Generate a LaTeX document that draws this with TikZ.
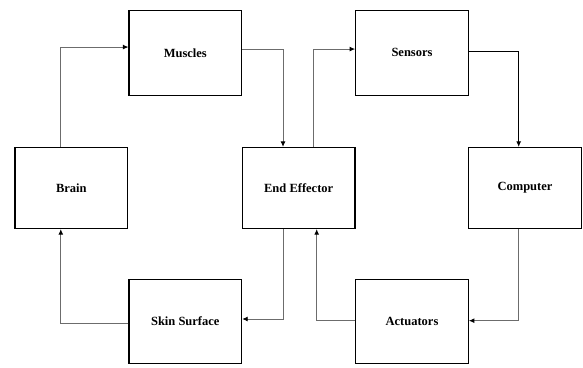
\documentclass[tikz,border=0pt]{standalone}
\usepackage{fontspec}
\setmainfont{Liberation Serif}
\usetikzlibrary{arrows.meta}
\begin{document}
\begin{tikzpicture}[x=1pt,y=-1pt,
  box/.style={draw=black,line width=1.3pt,minimum width=112.5pt,inner sep=0pt,
    font=\fontsize{12.5}{14}\selectfont\bfseries},
  toprow/.style={box,minimum height=85pt},
  midrow/.style={box,minimum height=81pt},
  botrow/.style={box,minimum height=84pt},
  conn/.style={draw=gray!85!black,line width=0.9pt,
    -{Latex[length=5.5pt,width=5pt,black]}},
  connb/.style={conn,draw=black}]
\useasboundingbox (0,0) rectangle (583,367);

\node[toprow] (muscles) at (185.3,52.8) {Muscles};
\node[toprow] (sensors) at (412,52.8) {Sensors};
\node[midrow] (brain) at (71.3,188) {Brain};
\node[midrow] (ee) at (298.7,188) {End Effector};
\node[midrow] (computer) at (525,188) {Computer};
\node[botrow] (skin) at (185.3,321.5) {Skin Surface};
\node[botrow] (actuators) at (412,321.5) {Actuators};

\draw[conn] ([xshift=-10.5pt]brain.north) |- ([yshift=5.75pt]muscles.west);
\draw[conn] ([yshift=3.75pt]muscles.east) -| ([xshift=-15.7pt]ee.north);
\draw[conn] ([xshift=14.3pt]ee.north) |- ([yshift=3.75pt]sensors.west);
\draw[connb] ([yshift=1.75pt]sensors.east) -| ([xshift=-6.3pt]computer.north);
\draw[conn] ([xshift=-6.3pt]computer.south) |- ([yshift=0.8pt]actuators.east);
\draw[conn] ([yshift=1.5pt]actuators.west) -| ([xshift=18pt]ee.south);
\draw[conn] ([xshift=-15.4pt]ee.south) |- ([yshift=2.5pt]skin.east);
\draw[conn] ([yshift=-1.8pt]skin.west) -| ([xshift=-10.5pt]brain.south);
\end{tikzpicture}
\end{document}
